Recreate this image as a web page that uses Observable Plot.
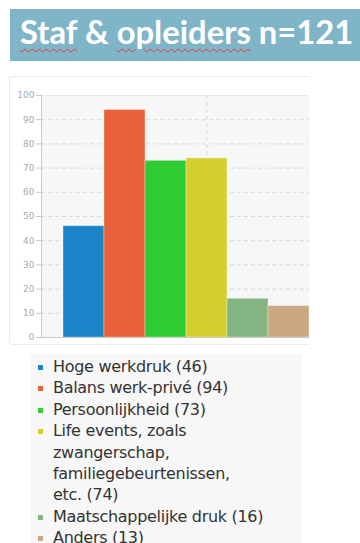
<!DOCTYPE html>
<html>
<head>
<meta charset="utf-8">
<script src="https://cdn.jsdelivr.net/npm/d3@7"></script>
<script src="https://cdn.jsdelivr.net/npm/@observablehq/plot@0.6"></script>
<style>
  html, body { margin: 0; padding: 0; background: #fff; width: 360px; height: 543px; overflow: hidden; position: relative; }
  #banner {
    position: absolute; left: 10px; top: 9px; width: 350px; height: 52px;
    background: #80b5c8;
  }
  #banner .title {
    position: absolute; left: 10px; top: 3px;
    font-family: Lato, "Open Sans", sans-serif; font-weight: 700; font-size: 32.8px;
    color: #fff; white-space: nowrap;
  }
  .sq { text-decoration: underline wavy #e23b3b; text-decoration-thickness: 1px; text-underline-offset: 4px; }
  #card {
    position: absolute; left: 9px; top: 76px; width: 300px; height: 267px;
    border: 1px solid #ececec; border-right: none; border-radius: 3px 0 0 3px; overflow: hidden; background: #fff;
  }
  #legend {
    position: absolute; left: 31px; top: 354px; width: 271px; height: 200px;
    background: #f7f7f7;
    font-family: "DejaVu Sans", sans-serif; font-size: 16px; letter-spacing: -0.3px; color: #333;
  }
  #legend ul { list-style: none; margin: 0; padding: 2px 0 0 0; }
  #legend li { position: relative; padding-left: 22px; line-height: 21.4px; width: 205px; white-space: nowrap; }
  #legend li.long { white-space: normal; }
  #legend li i { position: absolute; left: 7px; top: 9px; width: 5px; height: 5px; }
</style>
</head>
<body>
<div id="banner"><span class="title"><span class="sq">Staf</span> &amp; <span class="sq">opleiders</span> n=121</span></div>
<div id="card"></div>
<div id="legend"></div>
<script>
// Reasons and the number of respondents naming each one
const categories = [
  "Hoge werkdruk",
  "Balans werk-privé",
  "Persoonlijkheid",
  "Life events, zoals zwangerschap, familiegebeurtenissen, etc.",
  "Maatschappelijke druk",
  "Anders"
];
const counts = [46, 94, 73, 74, 16, 13];
const colors = ["#1984c7", "#e8603a", "#2ecb31", "#d3cf2e", "#86b584", "#c9a882"];
const yTicks = [0, 10, 20, 30, 40, 50, 60, 70, 80, 90, 100];
const gridTicks = [10, 20, 30, 40, 50, 60, 70, 80, 90];

const rows = categories.map((c, i) => ({category: c, count: counts[i]}));

const chart = Plot.plot({
  width: 300,
  height: 267,
  marginLeft: 31,
  marginRight: 1,
  marginTop: 18,
  marginBottom: 7,
  style: {fontFamily: "'DejaVu Sans', sans-serif", fontSize: "9px", background: "transparent"},
  x: {type: "band", domain: categories, padding: 0, paddingOuter: 0.268, align: 1, axis: null},
  y: {domain: [0, 100], ticks: yTicks, label: null},
  color: {domain: categories, range: colors},
  marks: [
    Plot.frame({fill: "#f7f7f7", stroke: null}),
    Plot.ruleY(gridTicks, {stroke: "#d9d9d9", strokeDasharray: "4,3"}),
    Plot.ruleX([categories[3]], {stroke: "#dadada", strokeDasharray: "4,3"}),
    Plot.ruleY([100], {stroke: "#e8e8e8"}),
    Plot.barY(rows, {x: "category", y: "count", fill: "category", stroke: "#fff", strokeOpacity: 0.35, strokeWidth: 1}),
    Plot.ruleY([0], {stroke: "#c8c8c8"}),
    Plot.frame({anchor: "left", stroke: "#c8c8c8"}),
    Plot.axisY({ticks: yTicks, label: null, tickSize: 5, tickPadding: 2, stroke: "#c8c8c8", color: "#a8a8a8", fontSize: 9})
  ]
});
document.getElementById("card").appendChild(chart);

// Legend list built from the chart's colour scale; only long labels wrap
const colorScale = chart.scale("color");
const ul = document.createElement("ul");
categories.forEach((c, i) => {
  const li = document.createElement("li");
  if (c.length > 30) li.className = "long";
  const sw = document.createElement("i");
  sw.style.background = colorScale.range[i];
  li.appendChild(sw);
  li.appendChild(document.createTextNode(`${c} (${counts[i]})`));
  ul.appendChild(li);
});
document.getElementById("legend").appendChild(ul);
</script>
</body>
</html>
